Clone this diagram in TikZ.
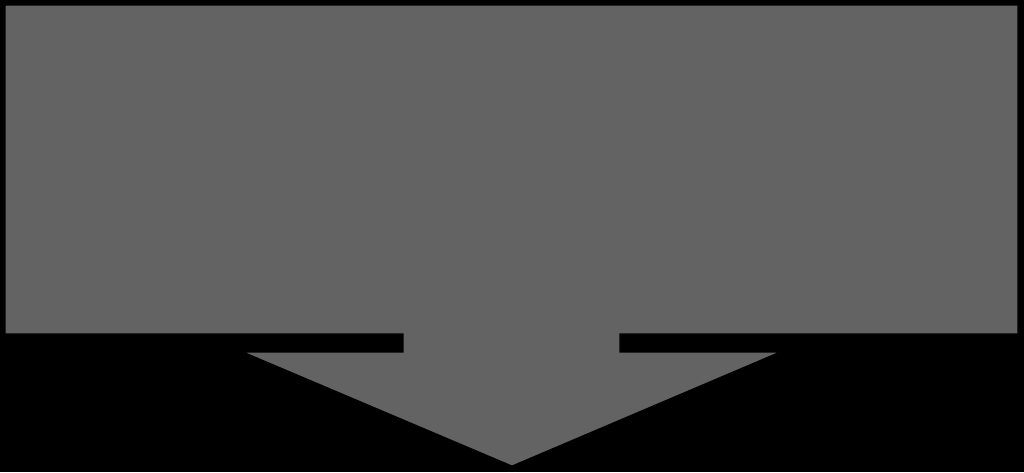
\documentclass[tikz,border=0pt]{standalone}
\usetikzlibrary{backgrounds}
\definecolor{panelgray}{HTML}{636363}
\tikzstyle{panel}=[fill=panelgray,draw=black,line width=0.8pt]

\begin{document}
\begin{tikzpicture}[x=0.75pt,y=-0.75pt]
	\begin{scope}
	  % black page
	  \fill[black] (0,0) rectangle (1024,472);
	  \useasboundingbox (0,0) rectangle (1024,472);
	  % panel with the arrow below it, one outline
	  \path[panel] (5,5) -- (1018,5) -- (1018,334) -- (620,334) -- (620,352)
	    -- (780,352) -- (512,466) -- (243,352) -- (403,352) -- (403,334)
	    -- (5,334) -- cycle;
	\end{scope}
\end{tikzpicture}
\end{document}
